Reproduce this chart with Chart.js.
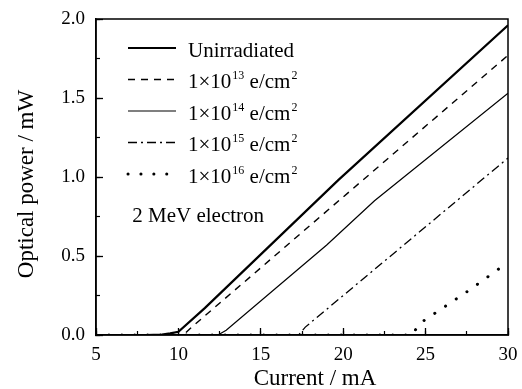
<!DOCTYPE html>
<html>
<head>
<meta charset="utf-8">
<script src="https://cdn.jsdelivr.net/npm/chart.js@4.4.1/dist/chart.umd.min.js"></script>
<style>
  body { margin: 0; background: #fff; }
  #wrap { width: 522px; height: 389px; }
</style>
</head>
<body>
<div id="wrap"><canvas id="chart"></canvas></div>
<script>
// values: current (mA) vs optical power (mW)
const unirrCurrent = [5, 8, 9, 9.5, 10, 11.6, 19.7, 30];
const unirrPower   = [0, 0, 0.003, 0.01, 0.02, 0.17, 0.98, 1.96];

const e13Current = [5, 10.3, 10.7, 30];
const e13Power   = [0, 0, 0.04, 1.77];

const e14Current = [5, 12.4, 12.9, 19.0, 21.9, 30];
const e14Power   = [0, 0, 0.03, 0.57, 0.85, 1.53];

const e15Current = [5, 17.3, 17.7, 30];
const e15Power   = [0, 0, 0.05, 1.12];

const e16Current = [5, 24.2, 24.6, 27.6, 30];
const e16Power   = [0, 0, 0.07, 0.28, 0.46];

const seriesLabels = ['Unirradiated', '1×10^13 e/cm^2', '1×10^14 e/cm^2', '1×10^15 e/cm^2', '1×10^16 e/cm^2'];
const xTicks = [5, 10, 15, 20, 25, 30];
const yTicks = [0, 0.5, 1.0, 1.5, 2.0];
const xTitle = 'Current / mA';
const yTitle = 'Optical power / mW';
const noteText = '2 MeV electron';

const FONT = '"Liberation Serif", "Times New Roman", serif';
Chart.defaults.font.family = FONT;
Chart.defaults.color = '#000';

function toPoints(xs, ys) {
  return xs.map((x, i) => ({ x: x, y: ys[i] }));
}

// text with ^NN superscripts
function drawRichText(ctx, text, x, y) {
  const parts = text.split(/\^(\d+)/);
  ctx.save();
  ctx.fillStyle = '#000';
  ctx.textAlign = 'left';
  ctx.textBaseline = 'alphabetic';
  parts.forEach((p, i) => {
    if (!p) return;
    if (i % 2 === 1) {
      ctx.font = '12px ' + FONT;
      ctx.fillText(p, x + 1, y - 9);
      x += ctx.measureText(p).width + 1;
    } else {
      ctx.font = '21px ' + FONT;
      ctx.fillText(p, x, y);
      x += ctx.measureText(p).width;
    }
  });
  ctx.restore();
}

// legend drawn inside the plot, top left
const insideLegend = {
  id: 'insideLegend',
  afterDatasetsDraw(chart) {
    const ctx = chart.ctx;
    const a = chart.chartArea;
    chart.data.datasets.forEach((ds, i) => {
      const y = a.top + 29 + i * 31.5;
      const x0 = a.left + 32;
      ctx.save();
      ctx.strokeStyle = ds.borderColor;
      ctx.lineWidth = ds.borderWidth;
      ctx.lineCap = ds.borderCapStyle || 'butt';
      ctx.setLineDash(ds.borderDash || []);
      ctx.beginPath();
      ctx.moveTo(x0, y);
      ctx.lineTo(x0 + 48, y);
      ctx.stroke();
      ctx.restore();
      drawRichText(ctx, ds.label, x0 + 60, y + 8.5);
    });
  }
};

// frame, axis titles and the note
const decorations = {
  id: 'decorations',
  afterDraw(chart) {
    const ctx = chart.ctx;
    const a = chart.chartArea;
    ctx.save();
    ctx.strokeStyle = '#000';
    ctx.lineWidth = 1.5;
    ctx.strokeRect(a.left, a.top, a.right - a.left, a.bottom - a.top);

    ctx.fillStyle = '#000';
    ctx.font = '21px ' + FONT;
    ctx.textAlign = 'left';
    ctx.textBaseline = 'alphabetic';
    ctx.fillText(noteText, chart.scales.x.getPixelForValue(7.2), chart.scales.y.getPixelForValue(0.715));

    ctx.font = '23px ' + FONT;
    ctx.textAlign = 'center';
    ctx.fillText(xTitle, (a.left + a.right) / 2 + 13, a.bottom + 50);
    ctx.translate(a.left - 63, (a.top + a.bottom) / 2 + 7);
    ctx.rotate(-Math.PI / 2);
    ctx.fillText(yTitle, 0, 0);
    ctx.restore();
  }
};

function noPad(s) {
  s.paddingLeft = 0;
  s.paddingRight = 0;
  s.paddingTop = 0;
  s.paddingBottom = 0;
}

new Chart(document.getElementById('chart'), {
  type: 'scatter',
  data: {
    datasets: [
      { label: seriesLabels[0], data: toPoints(unirrCurrent, unirrPower), borderColor: '#000', borderWidth: 2.2 },
      { label: seriesLabels[1], data: toPoints(e13Current, e13Power), borderColor: '#000', borderWidth: 1.4, borderDash: [7, 6] },
      { label: seriesLabels[2], data: toPoints(e14Current, e14Power), borderColor: '#000', borderWidth: 1.2 },
      { label: seriesLabels[3], data: toPoints(e15Current, e15Power), borderColor: '#000', borderWidth: 1.3, borderDash: [9, 4, 2, 4] },
      { label: seriesLabels[4], data: toPoints(e16Current, e16Power), borderColor: '#000', borderWidth: 3, borderDash: [0.1, 12.8], borderCapStyle: 'round' }
    ]
  },
  options: {
    responsive: true,
    maintainAspectRatio: false,
    animation: false,
    showLine: true,
    elements: { point: { radius: 0, hoverRadius: 0 }, line: { tension: 0, fill: false } },
    layout: { padding: { top: 19, right: 14, left: 0, bottom: 0 } },
    plugins: { legend: { display: false }, tooltip: { enabled: false } },
    scales: {
      x: {
        type: 'linear', position: 'bottom', min: xTicks[0], max: xTicks[xTicks.length - 1],
        afterBuildTicks: s => { s.ticks = xTicks.map(v => ({ value: v })); },
        ticks: { font: { size: 19 }, padding: 16, maxRotation: 0, callback: v => String(v) },
        grid: { drawOnChartArea: false, tickLength: -7, tickWidth: 1.3, tickColor: '#000' },
        border: { color: '#000', width: 1.5 },
        afterFit: s => { s.height = 54; noPad(s); }
      },
      x2: {
        type: 'linear', position: 'bottom', weight: -1, min: 5, max: 30,
        ticks: { display: false, stepSize: 2.5 },
        grid: { drawOnChartArea: false, tickLength: -4, tickWidth: 1.2, tickColor: '#000' },
        border: { display: false },
        afterFit: s => { s.height = 0; noPad(s); }
      },
      y: {
        type: 'linear', position: 'left', min: yTicks[0], max: yTicks[yTicks.length - 1],
        afterBuildTicks: s => { s.ticks = yTicks.map(v => ({ value: v })); },
        ticks: { font: { size: 19 }, padding: 18, callback: v => v.toFixed(1) },
        grid: { drawOnChartArea: false, tickLength: -7, tickWidth: 1.3, tickColor: '#000' },
        border: { color: '#000', width: 1.5 },
        afterFit: s => { s.width = 96; noPad(s); }
      },
      y2: {
        type: 'linear', position: 'left', weight: -1, min: 0, max: 2,
        ticks: { display: false, stepSize: 0.25 },
        grid: { drawOnChartArea: false, tickLength: -4, tickWidth: 1.2, tickColor: '#000' },
        border: { display: false },
        afterFit: s => { s.width = 0; noPad(s); }
      }
    }
  },
  plugins: [insideLegend, decorations]
});
</script>
</body>
</html>
